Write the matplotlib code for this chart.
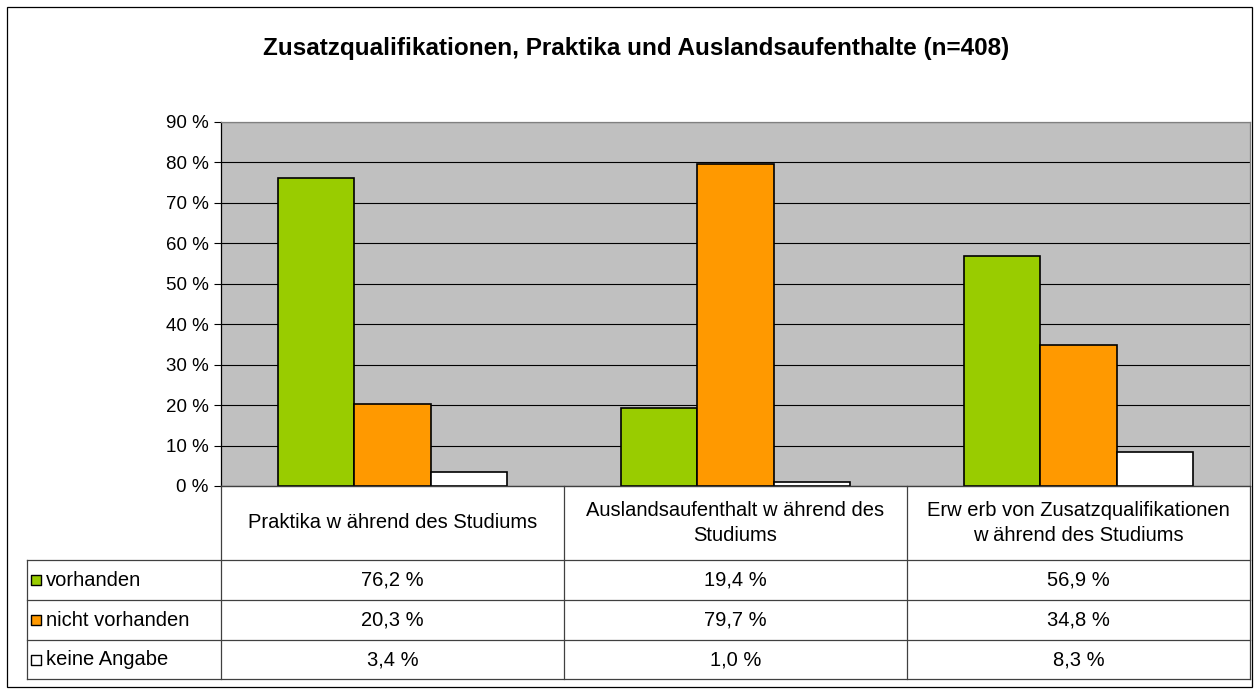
import numpy as np
import matplotlib.pyplot as plt
from matplotlib.patches import Rectangle

plt.rcParams['font.family'] = ['Liberation Sans', 'DejaVu Sans']

# data
categories = ["Praktika w ährend des Studiums",
              "Auslandsaufenthalt w ährend des\nStudiums",
              "Erw erb von Zusatzqualifikationen\nw ährend des Studiums"]
series = ["vorhanden", "nicht vorhanden", "keine Angabe"]
vorhanden = [76.2, 19.4, 56.9]
nicht_vorhanden = [20.3, 79.7, 34.8]
keine_angabe = [3.4, 1.0, 8.3]
values = [vorhanden, nicht_vorhanden, keine_angabe]
colors = ["#99CC00", "#FF9900", "#FFFFFF"]
title = "Zusatzqualifikationen, Praktika und Auslandsaufenthalte (n=408)"

W, H = 1260, 693
fig = plt.figure(figsize=(W / 100, H / 100), dpi=100)
fig.patch.set_facecolor("white")

# outer frame
fig.add_artist(Rectangle((7 / W, 6 / H), 1245 / W, 680 / H, transform=fig.transFigure,
                         fill=False, edgecolor="black", linewidth=0.9))

fig.text(636 / W, 1 - 49 / H, title, ha="center", va="center",
         fontsize=17.5, fontweight="bold")

# chart area
px_left, px_right, px_top, px_bottom = 221, 1250, 122, 486
ax = fig.add_axes([px_left / W, 1 - px_bottom / H, (px_right - px_left) / W,
                   (px_bottom - px_top) / H])
ax.set_facecolor("#C0C0C0")
n = len(categories)
x = np.arange(n)
bw = 0.223
for j, (vals, c) in enumerate(zip(values, colors)):
    ax.bar(x + (j - 1) * bw, vals, width=bw, color=c, edgecolor="black",
           linewidth=1.2, zorder=3)
ax.set_xlim(-0.5, n - 0.5)
ax.set_ylim(0, 90)
ax.set_yticks(np.arange(0, 91, 10))
ax.set_yticklabels([f"{v} %" for v in range(0, 91, 10)], fontsize=13.5)
ax.yaxis.grid(True, color="black", linewidth=0.8, zorder=1)
ax.set_axisbelow(True)
ax.set_xticks([])
ax.tick_params(axis="y", direction="out", length=5, width=0.8, pad=4)
ax.spines["left"].set_color("black")
ax.spines["left"].set_linewidth(0.9)
for s in ["top", "right", "bottom"]:
    ax.spines[s].set_color("#808080")
    ax.spines[s].set_linewidth(0.9)

# data table below the chart
tbl_left_px, tbl_bottom_px = 27, 679
cat_px = (px_right - px_left) / n
x_left = -0.5 - (px_left - tbl_left_px) / cat_px
tax = fig.add_axes([tbl_left_px / W, 1 - tbl_bottom_px / H,
                    (px_right - tbl_left_px) / W, (tbl_bottom_px - px_bottom) / H])
tax.set_xlim(x_left, n - 0.5)
tax.set_ylim(tbl_bottom_px - px_bottom, 0)
tax.axis("off")

row_edges = [0, 74, 114, 154, 193]
lc = "#404040"
for k, y in enumerate(row_edges):
    x0 = -0.5 if k == 0 else x_left
    tax.plot([x0, n - 0.5], [y, y], color=lc, linewidth=0.9, clip_on=False)
for xv in np.arange(-0.5, n, 1.0):
    tax.plot([xv, xv], [0, row_edges[-1]], color=lc, linewidth=0.9, clip_on=False)
tax.plot([x_left, x_left], [row_edges[1], row_edges[-1]], color=lc, linewidth=0.9,
         clip_on=False)

fs = 14.5
for i, cat in enumerate(categories):
    tax.text(i, row_edges[1] / 2, cat, ha="center", va="center", fontsize=fs,
             linespacing=1.45)

for j, (name, vals, c) in enumerate(zip(series, values, colors)):
    yc = (row_edges[j + 1] + row_edges[j + 2]) / 2
    tax.scatter([x_left + 0.026], [yc], marker="s", s=55, color=c,
                edgecolor="black", linewidth=1.0, clip_on=False)
    tax.text(x_left + 0.055, yc, name, ha="left", va="center", fontsize=fs)
    for i, v in enumerate(vals):
        tax.text(i, yc, f"{v:.1f} %".replace(".", ","), ha="center", va="center",
                 fontsize=fs)

fig.savefig("out.png", dpi=100)
